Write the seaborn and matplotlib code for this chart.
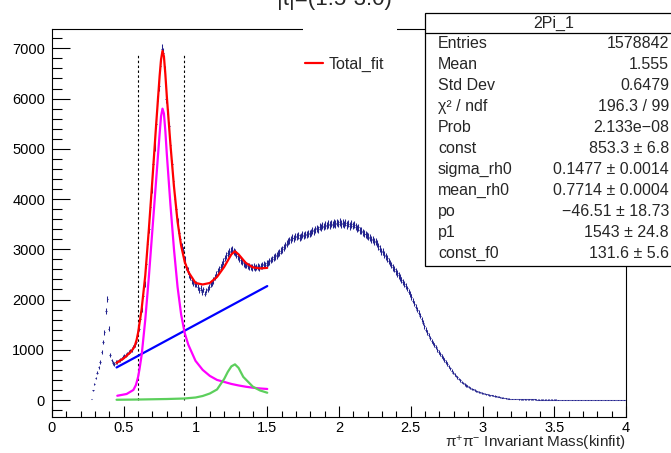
import numpy as np
import pandas as pd
import matplotlib
matplotlib.use("Agg")
import matplotlib.pyplot as plt
import seaborn as sns
from matplotlib.patches import Rectangle
from matplotlib.lines import Line2D
from matplotlib.ticker import MultipleLocator, FuncFormatter

# ---------------- data ----------------
bin_start = 0.27
bin_width = 0.01
counts = [
    # 0.27 - 0.45
    20, 190, 320, 440, 540, 650, 760, 950, 1150, 1350,
    1770, 2010, 1420, 900, 790, 740, 720, 760,
    # 0.45 - 1.00
    760, 790, 800, 830, 850, 880, 890, 920, 960, 970,
    1000, 1050, 1090, 1160, 1270, 1420, 1620, 1800, 2080, 2300,
    2700, 3100, 3400, 3850, 4200, 4700, 5050, 5500, 5950, 6250,
    6650, 6980, 6900, 6550, 6000, 5700, 5450, 5080, 4700, 4350,
    4000, 3800, 3550, 3330, 3200, 3050, 2980, 2800, 2650, 2580,
    2500, 2450, 2380, 2330, 2300,
    # 1.00 - 1.50
    2300, 2250, 2190, 2230, 2150, 2200, 2120, 2180, 2210, 2250,
    2300, 2330, 2380, 2450, 2500, 2560, 2600, 2640, 2700, 2760,
    2830, 2880, 2920, 2950, 2970, 2990, 2960, 2940, 2900, 2860,
    2820, 2780, 2750, 2720, 2700, 2690, 2670, 2660, 2650, 2640,
    2660, 2630, 2650, 2660, 2640, 2670, 2680, 2700, 2690, 2720,
    # 1.50 - 2.00
    2730, 2760, 2790, 2810, 2840, 2860, 2880, 2910, 2930, 2970,
    3000, 3040, 3080, 3110, 3150, 3180, 3200, 3230, 3220, 3250,
    3260, 3280, 3230, 3260, 3290, 3270, 3300, 3290, 3320, 3310,
    3340, 3380, 3360, 3400, 3420, 3400, 3450, 3440, 3470, 3450,
    3480, 3470, 3500, 3480, 3510, 3490, 3520, 3500, 3530, 3510,
    # 2.00 - 2.50
    3540, 3500, 3520, 3490, 3530, 3480, 3510, 3460, 3500, 3470,
    3490, 3450, 3420, 3440, 3380, 3370, 3340, 3310, 3300, 3270,
    3250, 3230, 3200, 3190, 3160, 3150, 3110, 3060, 3010, 2960,
    2950, 2890, 2860, 2820, 2770, 2730, 2690, 2640, 2610, 2560,
    2520, 2480, 2440, 2390, 2350, 2310, 2270, 2220, 2160, 2110,
    # 2.50 - 3.00
    2050, 1980, 1920, 1860, 1800, 1740, 1680, 1610, 1540, 1470,
    1400, 1340, 1290, 1230, 1180, 1130, 1090, 1050, 1000, 960,
    920, 880, 840, 800, 760, 720, 670, 630, 580, 540,
    510, 480, 450, 420, 390, 360, 335, 310, 290, 270,
    255, 240, 225, 210, 195, 180, 170, 160, 150, 140,
    # 3.00 - 3.50
    130, 125, 115, 110, 100, 95, 90, 85, 80, 75,
    70, 62, 55, 50, 45, 38, 32, 28, 25, 22,
    20, 19, 18, 17, 16, 15, 15, 14, 14, 13,
    13, 12, 12, 12, 11, 11, 11, 10, 10, 10,
    10, 9, 9, 9, 9, 8, 8, 8, 8, 8,
    # 3.50 - 4.00
    8, 8, 7, 7, 7, 7, 7, 7, 6, 6,
    6, 6, 6, 6, 6, 6, 5, 5, 5, 5,
    5, 5, 5, 5, 5, 5, 5, 5, 5, 5,
    5, 5, 5, 5, 4, 4, 4, 4, 4, 4,
    4, 4, 4, 4, 4, 4, 4, 4, 4, 4,
]

fit_mass = [0.45, 0.50, 0.55, 0.575, 0.59, 0.60, 0.61, 0.625, 0.65, 0.675,
            0.70, 0.725, 0.75, 0.76, 0.77, 0.78, 0.79, 0.80, 0.825, 0.85,
            0.875, 0.90, 0.925, 0.95, 1.00, 1.05, 1.10, 1.15, 1.20, 1.25,
            1.275, 1.30, 1.35, 1.40, 1.45, 1.50]
total_fit = [740, 830, 960, 1060, 1200, 1340, 1530, 1820, 2480, 3400,
             4400, 5450, 6450, 6780, 6950, 6840, 6480, 6050, 5100, 4250,
             3550, 3070, 2750, 2550, 2330, 2300, 2330, 2450, 2650, 2900,
             2960, 2900, 2730, 2640, 2620, 2630]

rho_mass = [0.455, 0.52, 0.567, 0.585, 0.60, 0.61, 0.625, 0.65, 0.675, 0.70,
            0.725, 0.75, 0.76, 0.77, 0.78, 0.79, 0.80, 0.825, 0.85, 0.875,
            0.90, 0.925, 0.95, 1.00, 1.05, 1.10, 1.15, 1.20, 1.25, 1.30,
            1.35, 1.40, 1.45, 1.50]
rho_bw = [85, 120, 200, 300, 460, 620, 900, 1600, 2450, 3400,
          4350, 5300, 5650, 5800, 5700, 5350, 4900, 3900, 3000, 2250,
          1700, 1330, 1100, 780, 600, 480, 400, 360, 320, 290,
          265, 245, 230, 220]

f0_mass = [0.45, 0.60, 0.80, 0.92, 1.00, 1.05, 1.10, 1.15, 1.20, 1.225,
           1.25, 1.275, 1.30, 1.333, 1.40, 1.45, 1.50]
f0_bw = [5, 10, 20, 30, 50, 80, 130, 210, 420, 560,
         670, 710, 640, 460, 265, 190, 145]

bkg_mass = [0.45, 1.50]
bkg_line = [648, 2268]

cut_lines = [0.60, 0.92]
cut_top = 6900

stats_title = "2Pi_1"
stats_labels = ["Entries", "Mean", "Std Dev", "\u03c7\u00b2 / ndf", "Prob", "const",
                "sigma_rh0", "mean_rh0", "po", "p1", "const_f0"]
stats_values = ["1578842", "1.555", "0.6479", "196.3 / 99", "2.133e\u221208",
                "853.3 \u00b1 6.8", "0.1477 \u00b1 0.0014", "0.7714 \u00b1 0.0004",
                "\u221246.51 \u00b1 18.73", "1543 \u00b1 24.8", "131.6 \u00b1 5.6"]

title_text = "|t|=(1.5-3.0)"
xlabel_text = r"$\pi^{+}\pi^{-}$ Invariant Mass(kinfit)"
legend_text = "Total_fit"

# ---------------- style ----------------
sns.set_theme(style="ticks")
plt.rcParams['font.family'] = ['Liberation Sans', 'DejaVu Sans']
plt.rcParams['mathtext.fontset'] = 'custom'
plt.rcParams['mathtext.rm'] = 'Liberation Sans'
plt.rcParams['mathtext.it'] = 'Liberation Sans'
plt.rcParams['mathtext.default'] = 'regular'

W, H = 671, 453
fig = plt.figure(figsize=(W / 100, H / 100), dpi=100)
fig.patch.set_facecolor("white")
ax = fig.add_axes([52 / W, 1 - 417 / H, 574 / W, 388 / H])
ax.set_facecolor("white")

navy = "#24248f"
centers = bin_start + bin_width * (np.arange(len(counts)) + 0.5)
cnt = np.array(counts, dtype=float)
err = 1.25 * np.sqrt(cnt)
ax.errorbar(centers, cnt, yerr=err, xerr=bin_width / 2, fmt="none",
            ecolor=navy, elinewidth=0.75, capsize=0, zorder=2)

ax.vlines(cut_lines, 0, cut_top, colors="black", linestyles=(0, (2.2, 2.2)),
          linewidth=0.8, zorder=3)

lw = 1.6
sns.lineplot(data=pd.DataFrame({"m": bkg_mass, "v": bkg_line}), x="m", y="v",
             ax=ax, color="#0000ff", linewidth=lw, estimator=None, zorder=4)
sns.lineplot(data=pd.DataFrame({"m": rho_mass, "v": rho_bw}), x="m", y="v",
             ax=ax, color="#ff00ff", linewidth=lw, estimator=None, zorder=4)
sns.lineplot(data=pd.DataFrame({"m": f0_mass, "v": f0_bw}), x="m", y="v",
             ax=ax, color="#5ccf5c", linewidth=lw, estimator=None, zorder=4)
sns.lineplot(data=pd.DataFrame({"m": fit_mass, "v": total_fit}), x="m", y="v",
             ax=ax, color="#ff0000", linewidth=lw, estimator=None, zorder=5)

ax.set_xlim(0, 4)
ax.set_ylim(-338, 7385)
ax.set_xlabel("")
ax.set_ylabel("")
ax.xaxis.set_major_locator(MultipleLocator(0.5))
ax.xaxis.set_minor_locator(MultipleLocator(0.1))
ax.yaxis.set_major_locator(MultipleLocator(1000))
ax.yaxis.set_minor_locator(MultipleLocator(200))
ax.xaxis.set_major_formatter(FuncFormatter(lambda v, p: f"{v:g}"))
ax.yaxis.set_major_formatter(FuncFormatter(lambda v, p: f"{v:g}"))
ax.tick_params(axis="x", which="major", direction="in", length=8, width=0.8,
               labelsize=10.5, pad=3, colors="black")
ax.tick_params(axis="x", which="minor", direction="in", length=4, width=0.8,
               colors="black")
ax.tick_params(axis="y", which="major", direction="in", length=13, width=0.8,
               labelsize=10.5, pad=5, colors="black")
ax.tick_params(axis="y", which="minor", direction="in", length=7, width=0.8,
               colors="black")
for s in ax.spines.values():
    s.set_color("black")
    s.set_linewidth(0.8)

ax.text(1.0, -(443.5 - 417) / 388, xlabel_text, transform=ax.transAxes,
        ha="right", va="center", fontsize=11)

ax.legend(handles=[Line2D([], [], color="#ff0000", lw=lw)], labels=[legend_text],
          loc="center left", bbox_to_anchor=(305 / W, 1 - 64 / H),
          bbox_transform=fig.transFigure, frameon=False, handlelength=1.1,
          handletextpad=0.35, borderpad=0, borderaxespad=0, fontsize=11.5)

# title pave (white) covering the frame
fig.patches.append(Rectangle((303 / W, 1 - 31 / H), 94 / W, 40 / H,
                             transform=fig.transFigure, facecolor="white",
                             edgecolor="none", zorder=5))
fig.text(334 / W, 1 - 5.5 / H, title_text, ha="center", va="baseline",
         fontsize=16, zorder=6)

# stats box
bx0, by0, bx1, by1 = 425, 13, 700, 266
fig.patches.append(Rectangle((bx0 / W, 1 - by1 / H), (bx1 - bx0) / W, (by1 - by0) / H,
                             transform=fig.transFigure, facecolor="white",
                             edgecolor="black", linewidth=0.9, zorder=6))
fig.lines.append(Line2D([bx0 / W, bx1 / W], [1 - 33 / H, 1 - 33 / H],
                        transform=fig.transFigure, color="black", linewidth=0.9,
                        zorder=7))
fig.text(554 / W, 1 - 23.5 / H, stats_title, ha="center", va="center",
         fontsize=11.5, zorder=8)
for i, (lab, val) in enumerate(zip(stats_labels, stats_values)):
    yy = 1 - (43.5 + 21.0 * i) / H
    fig.text(438 / W, yy, lab, ha="left", va="center", fontsize=11.5, zorder=8)
    fig.text(669 / W, yy, val, ha="right", va="center", fontsize=11.5, zorder=8)

fig.savefig("out.png", dpi=100, facecolor="white")
